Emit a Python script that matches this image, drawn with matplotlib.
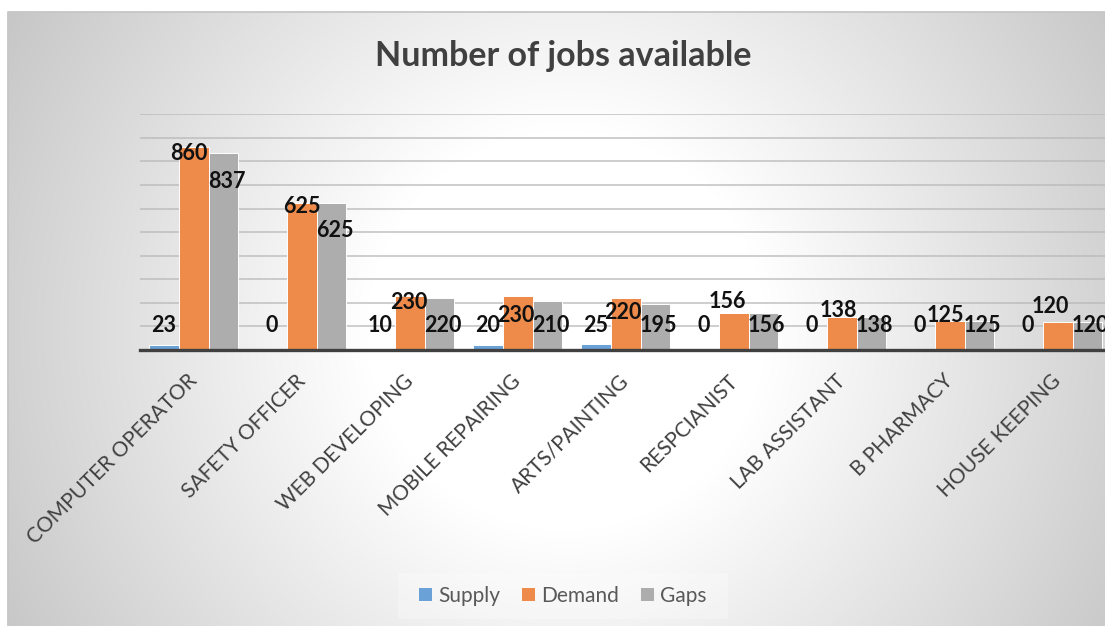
import numpy as np
import matplotlib.pyplot as plt
from matplotlib.patches import Patch, Rectangle

categories = ["COMPUTER OPERATOR", "SAFETY OFFICER", "WEB DEVELOPING",
              "MOBILE REPAIRING", "ARTS/PAINTING", "RESPCIANIST",
              "LAB ASSISTANT", "B PHARMACY", "HOUSE KEEPING"]
supply = [23, 0, 10, 20, 25, 0, 0, 0, 0]
demand = [860, 625, 230, 230, 220, 156, 138, 125, 120]
gaps = [837, 625, 220, 210, 195, 156, 138, 125, 120]
series_names = ["Supply", "Demand", "Gaps"]

# label nudges for the Demand values (pixels: dx, dy)
demand_nudge = [(-5, -6), (0, -4), (-1, -7), (-2, -20), (-3, -14),
                (-7, 12), (-4, 7), (-5, 5), (-8, 15)]

colors = ["#6AA2D8", "#EE8B4A", "#ADADAD"]
FONT = "Lato"
W, H, DPI = 1105, 626, 100
PX = 72.0 / DPI  # points per pixel

fig = plt.figure(figsize=(W / DPI, H / DPI), dpi=DPI)

# chart-area background: radial grey-to-white gradient with a thin frame
bg = fig.add_axes([0, 0, 1, 1], zorder=-10)
yy, xx = np.mgrid[0:H, 0:W]
dist = np.hypot(xx - 566, yy - 330)
t = np.clip((dist - 200) / 440.0, 0, 1)
v = 1 - 0.22 * t
img = np.dstack([v, v, v])
img[(xx < 8) | (yy < 12)] = 1.0
bg.imshow(img, extent=[0, W, H, 0], aspect="auto", interpolation="bilinear")
bg.plot([8, 8, W], [H, 12, 12], color="#c6c6c6", lw=1.3)
bg.add_patch(Rectangle((398, 573), 330, 46, facecolor="white",
                       alpha=0.25, edgecolor="none"))
bg.set_xlim(0, W)
bg.set_ylim(H, 0)
bg.axis("off")

# plot area (extends slightly past the right edge of the canvas)
left, right, base, top = 140, 1112, 350, 114.3
ax = fig.add_axes([left / W, (H - base) / H, (right - left) / W, (base - top) / H])
ax.set_facecolor("none")

x = np.arange(len(categories))
width = 0.27
offsets = [-0.278, 0.0, 0.273]
for vals, off, col, name in zip([supply, demand, gaps], offsets, colors, series_names):
    ax.bar(x + off, vals, width, color=col, edgecolor="white", linewidth=0.7,
           label=name, zorder=3)

ax.set_xlim(-0.5, len(categories) - 0.5)
ax.set_ylim(0, 1000)
ax.set_yticks(np.arange(0, 1001, 100))
ax.yaxis.grid(True, color="#b8b8b8", lw=1.2, alpha=0.8, zorder=0)
ax.set_axisbelow(True)
ax.tick_params(axis="y", left=False, labelleft=False)
for s in ["left", "right", "top"]:
    ax.spines[s].set_visible(False)
ax.spines["bottom"].set_color("#404040")
ax.spines["bottom"].set_linewidth(2.4)
ax.spines["bottom"].set_zorder(5)

ax.set_xticks(x)
ax.set_xticklabels(categories, rotation=45, ha="right", va="center",
                   rotation_mode="anchor", fontsize=15, color="#404040",
                   family=FONT)
ax.tick_params(axis="x", length=0, pad=20)

lab_kw = dict(ha="center", va="center", fontsize=15.5, fontweight="bold",
              color="#111111", family=FONT, zorder=6, textcoords="offset points")
floor = 104
for i in range(len(categories)):
    ax.annotate(str(supply[i]), xy=(x[i] + offsets[0], floor), xytext=(0, 0), **lab_kw)
    dx, dy = demand_nudge[i]
    ax.annotate(str(demand[i]), xy=(x[i] + offsets[1], demand[i]),
                xytext=(dx * PX, dy * PX), **lab_kw)
    ax.annotate(str(gaps[i]), xy=(x[i] + offsets[2], max(gaps[i] - 120, floor)),
                xytext=(3 * PX, 0), **lab_kw)

fig.text(563 / W, 1 - 56 / H, "Number of jobs available", ha="center", va="center",
         fontsize=24.5, fontweight="bold", color="#404040", family=FONT)

handles = [Patch(facecolor=c, edgecolor="none") for c in colors]
fig.legend(handles, series_names, loc="center", bbox_to_anchor=(563 / W, 1 - 596 / H),
           ncol=3, frameon=False, prop={"family": FONT, "size": 15},
           labelcolor="#595959", handlelength=0.62, handleheight=0.62,
           handletextpad=0.3, columnspacing=1.05)

fig.savefig("out.png", dpi=DPI)
